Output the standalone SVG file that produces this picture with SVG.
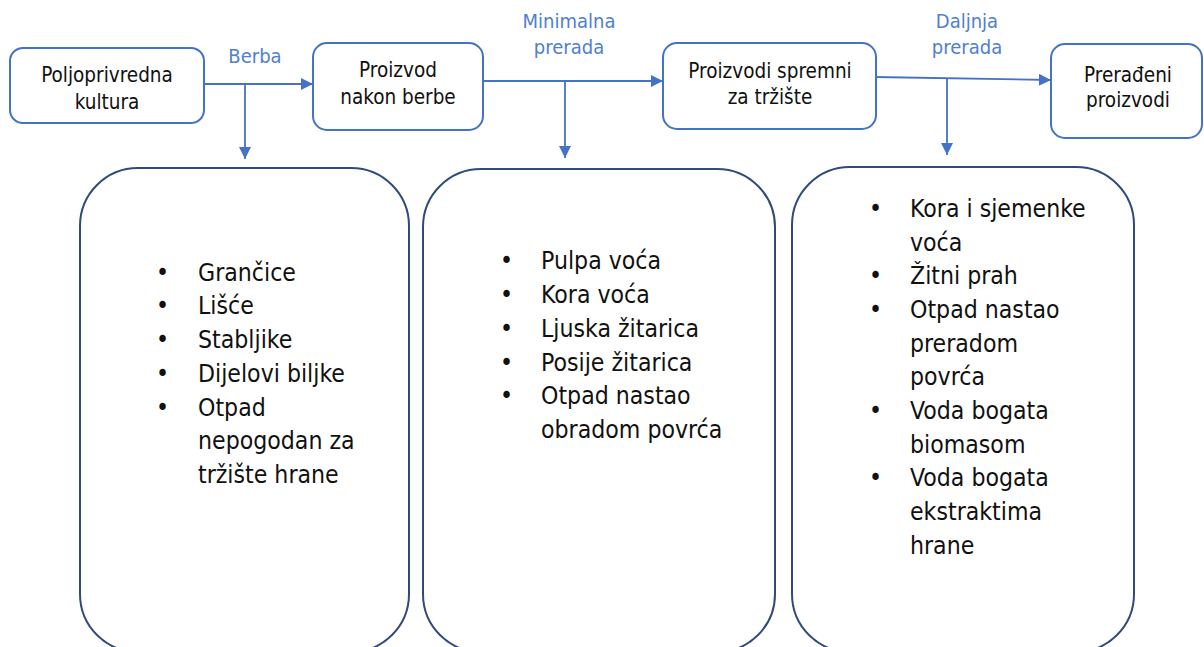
<svg xmlns="http://www.w3.org/2000/svg" width="1204" height="647" viewBox="0 0 1204 647">
<style>
.top{fill:#fff;stroke:#4472C4;stroke-width:2}
.big{fill:#fff;stroke:#2F4B7C;stroke-width:2}
.t{font-family:"DejaVu Sans Condensed","DejaVu Sans",sans-serif;font-stretch:condensed;fill:#111}
.n{font-size:20.5px;text-anchor:middle}
.lbl{font-family:"DejaVu Sans Condensed","DejaVu Sans",sans-serif;font-stretch:condensed;font-size:20px;fill:#4F7FCF;text-anchor:middle}
.b{font-size:24.6px}
.c{fill:none;stroke:#4472C4;stroke-width:1.8}
</style>
<defs>
<marker id="ah" viewBox="0 0 12 12" refX="12" refY="6" markerWidth="13" markerHeight="12" markerUnits="userSpaceOnUse" orient="auto">
<path d="M0,0 L12,6 L0,12 Z" fill="#4472C4"/>
</marker>
</defs>
<rect width="1204" height="647" fill="#fff"/>

<g id="connectors">
<path class="c" d="M200,84 L313,84" marker-end="url(#ah)"/>
<path class="c" d="M245,84 L245,159" marker-end="url(#ah)"/>
<path class="c" d="M481,81 L663,81" marker-end="url(#ah)"/>
<path class="c" d="M565,81 L565,158" marker-end="url(#ah)"/>
<path class="c" d="M874,77 L1051,80" marker-end="url(#ah)"/>
<path class="c" d="M947,79 L947,155" marker-end="url(#ah)"/>
<text class="lbl" x="255" y="63">Berba</text>
<text class="lbl" x="569" y="28">Minimalna</text>
<text class="lbl" x="569" y="54">prerada</text>
<text class="lbl" x="967" y="28">Daljnja</text>
<text class="lbl" x="967" y="54">prerada</text>
</g>

<g id="n1">
<rect class="top" x="10" y="48" width="194" height="75" rx="13"/>
<text class="t n" x="107" y="82">Poljoprivredna</text>
<text class="t n" x="107" y="109">kultura</text>
</g>
<g id="n2">
<rect class="top" x="313" y="43" width="170" height="87" rx="14"/>
<text class="t n" x="398" y="77">Proizvod</text>
<text class="t n" x="398" y="104">nakon berbe</text>
</g>
<g id="n3">
<rect class="top" x="663" y="43" width="213" height="86" rx="14"/>
<text class="t n" x="770" y="78">Proizvodi spremni</text>
<text class="t n" x="770" y="104">za tržište</text>
</g>
<g id="n4">
<rect class="top" x="1051" y="44" width="151" height="94" rx="14"/>
<text class="t n" x="1128" y="82">Prerađeni</text>
<text class="t n" x="1128" y="107">proizvodi</text>
</g>

<g id="boxA">
<rect class="big" x="80" y="168" width="329" height="484" rx="58"/>
<g class="t b">
<text x="156" y="281">•</text><text x="198" y="281">Grančice</text>
<text x="156" y="314">•</text><text x="198" y="314">Lišće</text>
<text x="156" y="348">•</text><text x="198" y="348">Stabljike</text>
<text x="156" y="382">•</text><text x="198" y="382">Dijelovi biljke</text>
<text x="156" y="416">•</text><text x="198" y="416">Otpad</text>
<text x="198" y="449">nepogodan za</text>
<text x="198" y="483">tržište hrane</text>
</g>
</g>

<g id="boxB">
<rect class="big" x="423" y="169" width="352" height="483" rx="58"/>
<g class="t b">
<text x="500" y="269">•</text><text x="541" y="269">Pulpa voća</text>
<text x="500" y="303">•</text><text x="541" y="303">Kora voća</text>
<text x="500" y="337">•</text><text x="541" y="337">Ljuska žitarica</text>
<text x="500" y="371">•</text><text x="541" y="371">Posije žitarica</text>
<text x="500" y="404">•</text><text x="541" y="404">Otpad nastao</text>
<text x="541" y="438">obradom povrća</text>
</g>
</g>

<g id="boxC">
<rect class="big" x="792" y="167" width="342" height="485" rx="58"/>
<g class="t b">
<text x="869" y="217">•</text><text x="910" y="217">Kora i sjemenke</text>
<text x="910" y="251">voća</text>
<text x="869" y="284">•</text><text x="910" y="284">Žitni prah</text>
<text x="869" y="318">•</text><text x="910" y="318">Otpad nastao</text>
<text x="910" y="352">preradom</text>
<text x="910" y="385">povrća</text>
<text x="869" y="419">•</text><text x="910" y="419">Voda bogata</text>
<text x="910" y="453">biomasom</text>
<text x="869" y="486">•</text><text x="910" y="486">Voda bogata</text>
<text x="910" y="520">ekstraktima</text>
<text x="910" y="554">hrane</text>
</g>
</g>
</svg>
